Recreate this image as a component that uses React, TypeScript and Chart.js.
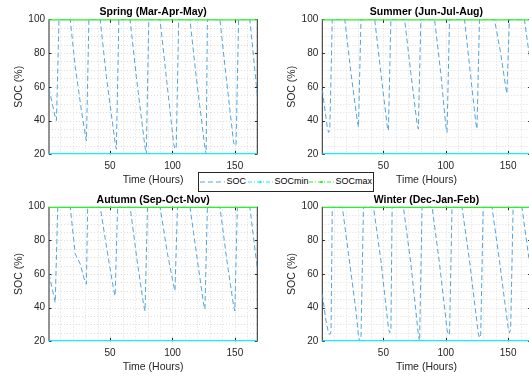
import React, { useEffect, useRef } from "react";
import { Chart, registerables } from "chart.js";

Chart.register(...registerables);

// ---------------- data ----------------
const X_MIN = 1;
const X_MAX = 168;
const Y_MIN = 20;
const Y_MAX = 100;
const X_TICKS = [50, 100, 150];
const Y_TICKS = [20, 40, 60, 80, 100];
const X_MINOR = [10, 20, 30, 40, 50, 60, 70, 80, 90, 100, 110, 120, 130, 140, 150, 160];
const Y_MINOR = [25, 30, 35, 40, 45, 50, 55, 60, 65, 70, 75, 80, 85, 90, 95];

const SOC_MIN = 20;
const SOC_MAX = 100;
const LIMIT_HOURS = [1, 168];

const springHours = [1, 6, 7, 9, 18, 22, 27, 30, 31, 33, 42, 47, 54, 55, 57, 66, 71, 78, 79, 81, 90, 95, 101, 102, 103, 105, 114, 119, 126, 127, 128, 138, 143, 149, 150, 151, 153, 162, 168];
const springSOC = [59, 42, 40, 100, 100, 72, 46, 32, 28, 100, 100, 66, 27, 23, 100, 100, 66, 24, 20, 100, 100, 66, 26, 23, 24, 100, 100, 66, 24, 20, 100, 100, 66, 27, 25, 26, 100, 100, 55];

const summerHours = [1, 5, 6, 7, 9, 19, 24, 29, 30, 32, 43, 48, 53, 54, 56, 67, 72, 77, 78, 80, 91, 96, 100, 101, 103, 115, 120, 124, 125, 127, 139, 144, 148, 149, 151, 163, 168];
const summerSOC = [58, 36, 33, 34, 100, 100, 68, 40, 36, 100, 100, 68, 37, 34, 100, 100, 68, 38, 35, 100, 100, 68, 37, 33, 100, 100, 66, 39, 35, 100, 100, 80, 60, 56, 100, 100, 73];

const autumnHours = [1, 6, 8, 18, 22, 26, 30, 31, 32, 42, 48, 53, 54, 56, 66, 72, 77, 78, 80, 90, 96, 101, 102, 104, 114, 120, 125, 126, 128, 138, 144, 149, 150, 152, 162, 168];
const autumnSOC = [60, 43, 100, 100, 72, 66, 55, 54, 100, 100, 72, 50, 47, 100, 100, 66, 41, 38, 100, 100, 72, 53, 50, 100, 100, 68, 42, 39, 100, 100, 66, 41, 38, 100, 100, 63];

const winterHours = [1, 4, 6, 7, 8, 9, 17, 22, 28, 30, 31, 32, 34, 42, 48, 54, 55, 56, 57, 66, 72, 78, 79, 81, 89, 95, 101, 102, 103, 105, 113, 119, 126, 127, 128, 130, 137, 143, 150, 151, 152, 154, 161, 168];
const winterSOC = [48, 32, 25, 24, 26, 100, 100, 72, 38, 23, 20, 21, 100, 100, 68, 28, 25, 26, 100, 100, 66, 24, 20, 100, 100, 66, 27, 24, 24, 100, 100, 68, 25, 22, 24, 100, 100, 68, 28, 25, 27, 100, 100, 62];

// ---------------- styling ----------------
const FONT = '"Liberation Sans", Arial, Helvetica, sans-serif';
const INK = "#262626";
const SOC_COLOR = "rgb(85,163,220)";
const MIN_COLOR = "#14eef4";
const MAX_COLOR = "#2af22a";
const GRID_COLOR = "#dedede";

const matlabAxes = {
  id: "matlabAxes",
  beforeDatasetsDraw(chart: any) {
    const { ctx, chartArea: a, scales } = chart;
    const x = scales.x;
    const y = scales.y;
    ctx.save();
    ctx.lineWidth = 1;
    ctx.strokeStyle = GRID_COLOR;
    ctx.setLineDash([1, 2]);
    X_MINOR.forEach((v) => {
      const px = Math.round(x.getPixelForValue(v)) + 0.5;
      ctx.beginPath();
      ctx.moveTo(px, a.top);
      ctx.lineTo(px, a.bottom);
      ctx.stroke();
    });
    Y_MINOR.forEach((v) => {
      const py = Math.round(y.getPixelForValue(v)) + 0.5;
      ctx.beginPath();
      ctx.moveTo(a.left, py);
      ctx.lineTo(a.right, py);
      ctx.stroke();
    });
    ctx.setLineDash([]);
    ctx.strokeStyle = INK;
    // left and right box edges (top/bottom are covered by SOCmax/SOCmin)
    ctx.beginPath();
    ctx.moveTo(a.left, a.top);
    ctx.lineTo(a.left, a.bottom);
    ctx.moveTo(a.right, a.top);
    ctx.lineTo(a.right, a.bottom);
    ctx.stroke();
    const tl = 2.5;
    X_TICKS.forEach((v) => {
      const px = Math.round(x.getPixelForValue(v)) + 0.5;
      ctx.beginPath();
      ctx.moveTo(px, a.bottom);
      ctx.lineTo(px, a.bottom - tl - 1);
      ctx.moveTo(px, a.top);
      ctx.lineTo(px, a.top + tl + 1);
      ctx.stroke();
    });
    Y_TICKS.forEach((v) => {
      const py = Math.round(y.getPixelForValue(v)) + 0.5;
      ctx.beginPath();
      ctx.moveTo(a.left, py);
      ctx.lineTo(a.left + tl, py);
      ctx.moveTo(a.right, py);
      ctx.lineTo(a.right - tl, py);
      ctx.stroke();
    });
    ctx.restore();
  },
};

type PanelProps = {
  title: string;
  hours: number[];
  soc: number[];
  left: number;
  top: number;
  yAxisWidth: number;
  padTop: number;
  padRight: number;
};

const CANVAS_W = 262;
const CANVAS_H = 188;

function Panel({ title, hours, soc, left, top, yAxisWidth, padTop, padRight }: PanelProps) {
  const ref = useRef<HTMLCanvasElement | null>(null);
  useEffect(() => {
    if (!ref.current) return;
    const chart = new Chart(ref.current, {
      type: "line",
      data: {
        datasets: [
          {
            label: "SOC",
            data: hours.map((h, i) => ({ x: h, y: soc[i] })),
            borderColor: SOC_COLOR,
            borderWidth: 1,
            borderDash: [5, 3],
            pointRadius: 0,
            tension: 0,
            order: 3,
          },
          {
            label: "SOCmin",
            data: LIMIT_HOURS.map((h) => ({ x: h, y: SOC_MIN })),
            borderColor: MIN_COLOR,
            borderWidth: 2.4,
            pointRadius: 0,
            order: 1,
          },
          {
            label: "SOCmax",
            data: LIMIT_HOURS.map((h) => ({ x: h, y: SOC_MAX })),
            borderColor: MAX_COLOR,
            borderWidth: 2.4,
            pointRadius: 0,
            order: 2,
          },
        ],
      },
      options: {
        animation: false,
        responsive: false,
        maintainAspectRatio: false,
        devicePixelRatio: 1,
        events: [],
        layout: { padding: { top: padTop, right: padRight, bottom: 0, left: 0 } },
        plugins: {
          legend: { display: false },
          tooltip: { enabled: false },
          title: {
            display: true,
            fullSize: false,
            text: title,
            color: "#000",
            font: { family: FONT, size: 10.5, weight: "bold" },
            padding: { top: 6, bottom: 0.7 },
          },
        },
        scales: {
          x: {
            type: "linear",
            min: X_MIN,
            max: X_MAX,
            grid: { display: false, drawTicks: false },
            border: { display: false },
            afterBuildTicks: (s: any) => {
              s.ticks = X_TICKS.map((v) => ({ value: v }));
            },
            afterFit: (s: any) => {
              s.height = 33.7;
            },
            ticks: {
              color: INK,
              font: { family: FONT, size: 10 },
              padding: 5.5,
              maxRotation: 0,
              autoSkip: false,
            },
            title: {
              display: true,
              text: "Time (Hours)",
              color: INK,
              font: { family: FONT, size: 10.5 },
              padding: { top: 0, bottom: 1.7 },
            },
          },
          y: {
            type: "linear",
            min: Y_MIN,
            max: Y_MAX,
            grid: { display: false, drawTicks: false },
            border: { display: false },
            afterBuildTicks: (s: any) => {
              s.ticks = Y_TICKS.map((v) => ({ value: v }));
            },
            afterFit: (s: any) => {
              s.width = yAxisWidth;
            },
            ticks: {
              color: INK,
              font: { family: FONT, size: 10 },
              padding: 4,
            },
            title: {
              display: true,
              text: "SOC (%)",
              color: INK,
              font: { family: FONT, size: 10.5 },
              padding: { top: 13, bottom: 0 },
            },
          },
        },
      } as any,
      plugins: [matlabAxes],
    } as any);
    return () => chart.destroy();
  }, [title, hours, soc, yAxisWidth, padTop, padRight]);

  return (
    <canvas
      ref={ref}
      width={CANVAS_W}
      height={CANVAS_H}
      style={{ position: "absolute", left, top, width: CANVAS_W, height: CANVAS_H }}
    />
  );
}

function Legend() {
  const textStyle: React.CSSProperties = {
    position: "absolute",
    top: 0,
    height: 17,
    lineHeight: "17px",
    fontFamily: FONT,
    fontSize: 9,
    color: "#000",
    whiteSpace: "nowrap",
  };
  return (
    <div
      style={{
        position: "absolute",
        left: 198,
        top: 172,
        width: 176,
        height: 20,
        boxSizing: "border-box",
        border: `1px solid ${INK}`,
        background: "#fff",
        zIndex: 5,
      }}
    >
      <svg width={174} height={18} style={{ position: "absolute", left: 0, top: 0 }}>
        <line x1={1} x2={26} y1={9} y2={9} stroke={SOC_COLOR} strokeWidth={1} strokeDasharray="5 3" />
        <line x1={49} x2={74} y1={9} y2={9} stroke={MIN_COLOR} strokeWidth={1} strokeDasharray="4 2 1 2" />
        <circle cx={61.5} cy={9} r={1.3} fill={MIN_COLOR} />
        <line x1={110} x2={135} y1={9} y2={9} stroke={MAX_COLOR} strokeWidth={1} strokeDasharray="4 2 1 2" />
        <circle cx={122.5} cy={9} r={1.3} fill={MAX_COLOR} />
      </svg>
      <span style={{ ...textStyle, left: 27.5 }}>SOC</span>
      <span style={{ ...textStyle, left: 75.5 }}>SOCmin</span>
      <span style={{ ...textStyle, left: 136.5 }}>SOCmax</span>
    </div>
  );
}

export default function App() {
  return (
    <div
      style={{
        position: "fixed",
        left: 0,
        top: 0,
        width: 529,
        height: 376,
        overflow: "hidden",
        background: "#fff",
      }}
    >
      <Panel title="Spring (Mar-Apr-May)" hours={springHours} soc={springSOC} left={0} top={0} yAxisWidth={49} padTop={0} padRight={4.7} />
      <Panel title="Summer (Jun-Jul-Aug)" hours={summerHours} soc={summerSOC} left={273} top={0} yAxisWidth={49.3} padTop={0} padRight={4.4} />
      <Panel title="Autumn (Sep-Oct-Nov)" hours={autumnHours} soc={autumnSOC} left={0} top={187} yAxisWidth={49} padTop={0.4} padRight={4.7} />
      <Panel title="Winter (Dec-Jan-Feb)" hours={winterHours} soc={winterSOC} left={273} top={187} yAxisWidth={49.3} padTop={0.4} padRight={4.4} />
      <Legend />
    </div>
  );
}
